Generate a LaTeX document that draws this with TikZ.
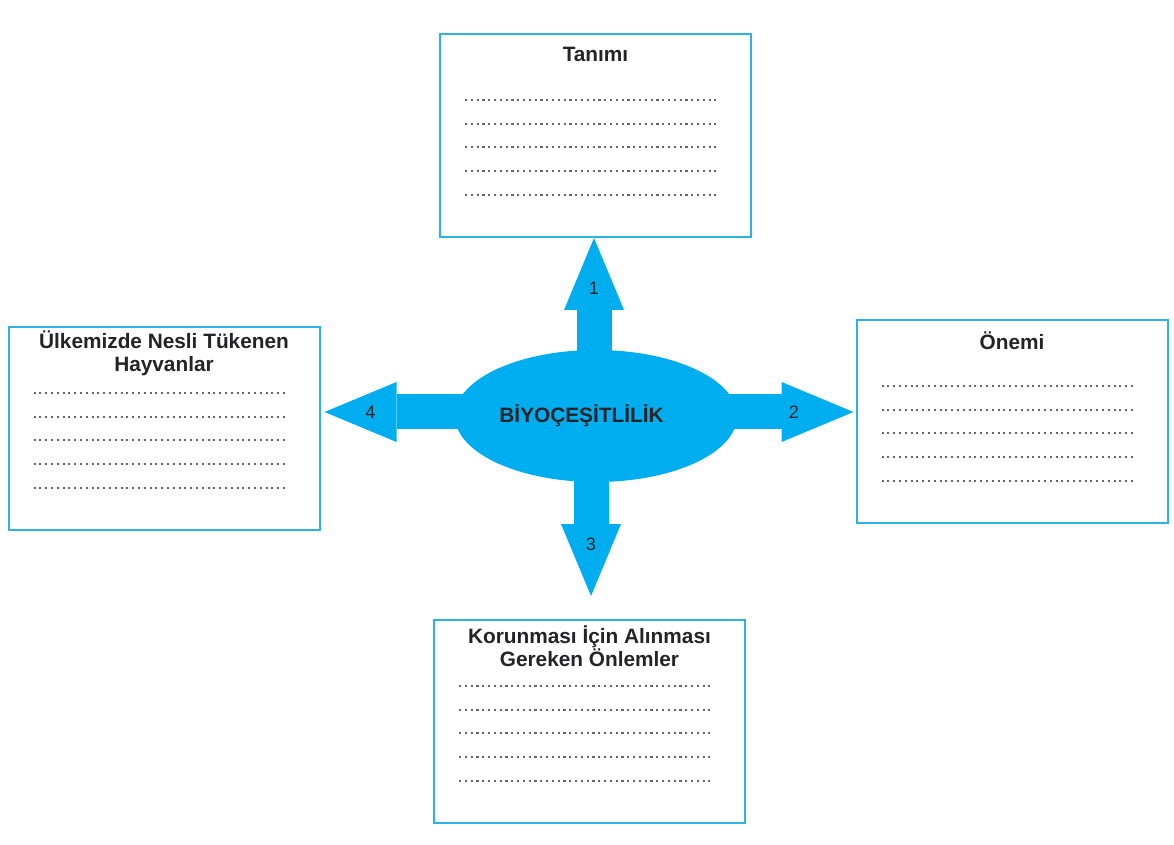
\documentclass[tikz,border=0pt]{standalone}
\usepackage{fontspec}
\setmainfont{Liberation Sans}
\usepackage{tikz}
\usetikzlibrary{shapes,arrows.meta}
\definecolor{kolmavi}{RGB}{0,174,239}
\definecolor{kenarmavi}{RGB}{45,178,232}
\definecolor{yazigri}{RGB}{35,35,40}
\tikzstyle{bilgi_kutu}=[rectangle,draw=kenarmavi,line width=1pt,minimum width=155.5pt,minimum height=101.5pt,inner sep=0pt]
\tikzstyle{baslik}=[font=\fontsize{10.4}{11.3}\selectfont\bfseries,text=yazigri,align=center,inner sep=0pt]
\tikzstyle{noktali}=[draw=black!60,line width=1.05pt,dash pattern=on 1.05pt off 1.85pt]
\tikzstyle{kol}=[draw=kolmavi,line width=17.5pt,-{Triangle[width=30pt,length=36pt,line width=0pt]}]
\tikzstyle{numara}=[font=\fontsize{9}{9}\selectfont,text=yazigri,inner sep=0pt]
\tikzstyle{merkez_elips}=[ellipse,fill=kolmavi,minimum width=141pt,minimum height=66pt,inner sep=0pt]
\newcommand{\satiraralik}{11.85pt}

\begin{document}
\begin{tikzpicture}[x=0.5pt,y=-0.5pt]
  \useasboundingbox (0,0) rectangle (1174,845);

  \node[bilgi_kutu] (tanim) at (595.5,135.5) {};
  \node[bilgi_kutu] (onem)  at (1012,421.5)  {};
  \node[bilgi_kutu] (onlem) at (589.5,721.5) {};
  \node[bilgi_kutu] (ulke)  at (164,428.5)   {};

  \node[baslik] (tanim_b) at ([yshift=-10.5pt]tanim.north) {Tanımı};
  \node[baslik] (onem_b)  at ([yshift=-11pt]onem.north)    {Önemi};
  \node[baslik] (onlem_b) at ([yshift=-13.5pt]onlem.north) {Korunması İçin Alınması\\Gereken Önlemler};
  \node[baslik] (ulke_b)  at ([yshift=-13.5pt]ulke.north)  {Ülkemizde Nesli Tükenen\\Hayvanlar};

  % doldurulacak satirlar
  \foreach \k in {tanim,onem,onlem,ulke}
    \foreach \i in {0,...,4}
      \draw[noktali] ([xshift=13pt,yshift=-33.5pt-\i*\satiraralik]\k.north west) -- ++(251,0);

  % oklar
  \coordinate (merkez) at (594,412);
  \draw[kol] (merkez) -- node[numara,pos=0.71] (n1) {1} (merkez |- tanim.south);
  \draw[kol] (merkez) -- node[numara,pos=0.77] (n2) {2} ([xshift=-1pt]merkez -| onem.west);
  \draw[kol] ([xshift=-1.5pt]merkez) -- node[numara,pos=0.72] (n3) {3} ([xshift=-1.5pt,yshift=11.5pt]merkez |- onlem.north);
  \draw[kol] (merkez) -- node[numara,pos=0.83] (n4) {4} ([xshift=2pt]merkez -| ulke.east);

  \node[merkez_elips] (biyo) at ([xshift=1pt,yshift=-2pt]merkez) {};
  \node[baslik] (biyo_y) at ([xshift=-7.25pt]biyo.center) {BİYOÇEŞİTLİLİK};
\end{tikzpicture}
\end{document}
